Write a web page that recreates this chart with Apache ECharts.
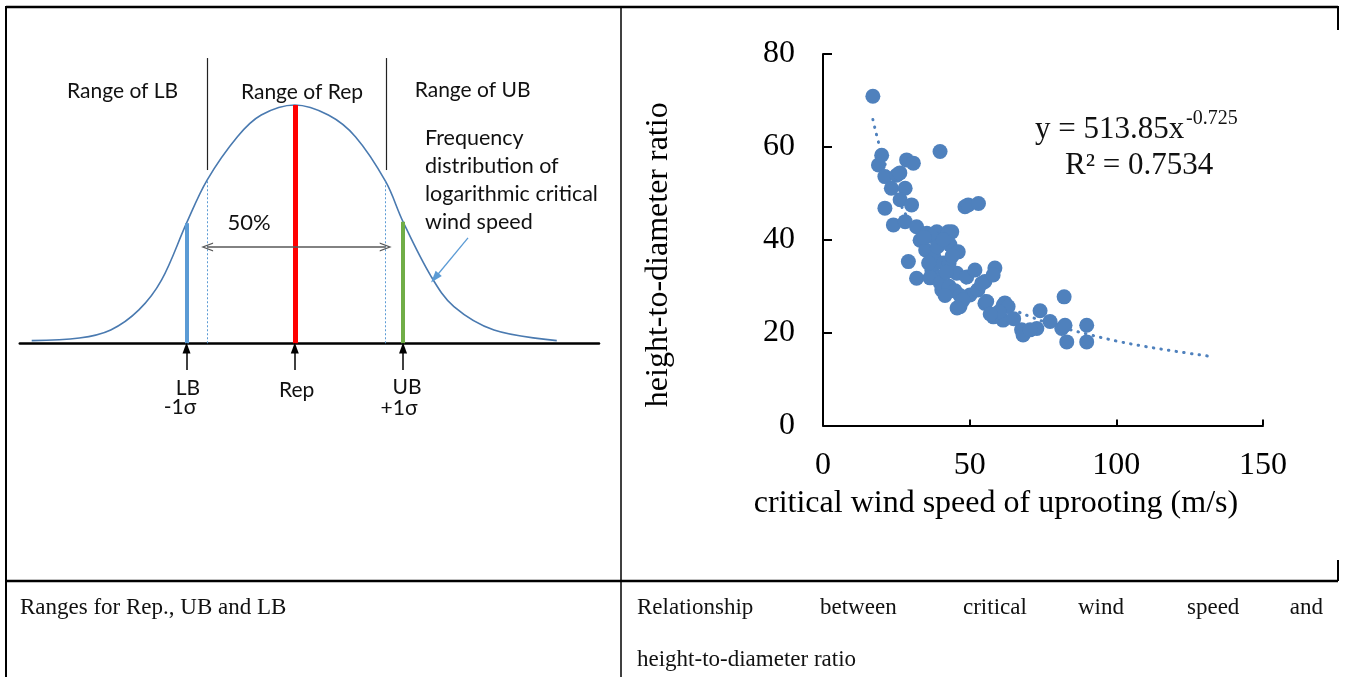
<!DOCTYPE html>
<html>
<head>
<meta charset="utf-8">
<script src="https://cdn.jsdelivr.net/npm/echarts@6/dist/echarts.min.js"></script>
<style>
html, body { margin: 0; padding: 0; background: #fff; }
#main { width: 1345px; height: 677px; }
</style>
</head>
<body>
<div id="main"></div>
<script>
// left panel: frequency curve (x in sigma from Rep, y relative to peak)
var curveX = [-2.43, -1.99, -1.70, -1.44, -1.23, -1.0, -0.81, -0.53, -0.31, 0, 0.31, 0.56, 0.84, 1.0, 1.26, 1.47, 1.84, 2.42];
var curveY = [0.011, 0.022, 0.056, 0.14, 0.266, 0.504, 0.685, 0.867, 0.958, 1.0, 0.958, 0.867, 0.678, 0.51, 0.28, 0.154, 0.056, 0.011];
var markerNames = ['LB', 'Rep', 'UB'];
var markerX = [-1, 0, 1];
var markerY = [0.504, 1.0, 0.51];
var quartileX = [-0.81, 0.84];
var quartileY = [0.685, 0.678];

// right panel: critical wind speed (m/s) vs height-to-diameter ratio
var speed = [17.0, 20.0, 18.9, 28.5, 30.8, 39.9, 21.1, 25.1, 26.2, 23.3, 28.0, 21.1, 26.3, 30.2, 24.0, 28.0, 31.9, 35.4, 38.8, 42.7,
  29.1, 31.9, 33.1, 37.1, 43.9, 37.5, 43.3, 46.1, 37.1, 39.9, 45.6, 49.0, 40.5, 46.7, 50.1, 52.8, 55.2, 55.2, 51.8, 48.4,
  49.5, 53.0, 58.6, 58.0, 54.1, 55.8, 62.0, 61.4, 63.1, 58.1, 61.4, 67.7, 68.2, 72.9, 77.4, 81.4, 83.1, 89.9, 89.9, 82.2,
  74.0, 82.5, 70.6, 35.0, 38.0, 41.0, 43.0, 36.5, 40.0, 43.0, 45.0, 46.7, 41.6, 47.7, 45.7, 36.0, 39.0, 41.0, 44.0, 42.0,
  34.5, 60.0, 65.0, 57.0];
var ratio = [70.9, 58.2, 56.1, 57.2, 56.5, 59.0, 53.6, 53.9, 54.4, 51.1, 51.1, 46.8, 48.6, 47.5, 43.2, 43.9, 42.8, 41.4, 41.7, 41.7,
  35.3, 31.7, 39.9, 40.7, 41.7, 37.1, 38.9, 37.4, 33.5, 32.0, 32.8, 32.0, 29.2, 25.6, 28.1, 29.2, 31.0, 26.3, 33.5, 47.1,
  47.5, 47.8, 33.9, 32.4, 30.6, 26.7, 26.4, 25.9, 25.6, 23.4, 22.7, 20.6, 19.5, 20.9, 22.4, 20.9, 18.0, 21.6, 18.0, 27.7,
  24.7, 21.6, 20.6, 37.8, 36.0, 35.0, 35.0, 31.8, 30.7, 30.0, 29.0, 28.0, 28.0, 27.0, 25.3, 35.0, 38.5, 40.0, 36.5, 33.0,
  40.5, 24.5, 23.0, 24.0];
// power trendline as drawn (y = 513.85x^-0.725)
var trendX = [17, 20, 25, 30, 40, 50, 60, 70, 80, 90, 100, 110, 120, 133];
var trendY = [65.9, 58.6, 49.8, 43.6, 35.4, 30.1, 26.4, 23.6, 21.4, 19.7, 18.2, 17.0, 16.0, 14.8];

function zip(a, b) {
  return a.map(function (v, i) { return [v, b[i]]; });
}

var chevron = 'path://M0,10 L5,0 L10,10 L8.6,10 L5,2.8 L1.4,10 Z';
var serif = 'Liberation Serif';
var sans = 'Lato';

var markLines = [];
markerX.forEach(function (x, i) {
  var colors = ['#5B9BD5', '#FF0000', '#70AD47'];
  markLines.push([
    { coord: [x, 0], lineStyle: { color: colors[i], width: i === 1 ? 5 : 4, type: 'solid' } },
    { coord: [x, markerY[i]] }
  ]);
  // small arrow under the axis
  markLines.push([
    { coord: [x, -0.112], symbol: 'none', lineStyle: { color: '#000', width: 1.5, type: 'solid' } },
    { coord: [x, -0.02], symbol: 'triangle', symbolSize: [8, 11] }
  ]);
});
quartileX.forEach(function (x, i) {
  markLines.push([
    { coord: [x, 0], lineStyle: { color: '#5B9BD5', width: 1, type: [2, 2] } },
    { coord: [x, quartileY[i]] }
  ]);
  markLines.push([
    { coord: [x + 0.005, 0.727], lineStyle: { color: '#222', width: 1.2, type: 'solid' } },
    { coord: [x + 0.005, 1.197] }
  ]);
});
markLines.push([
  { coord: [quartileX[0], 0.404], symbol: chevron, symbolSize: [9, 12], lineStyle: { color: '#595959', width: 1.5, type: 'solid' } },
  { coord: [quartileX[1], 0.404], symbol: chevron, symbolSize: [9, 12] }
]);
markLines.push([
  { coord: [1.60, 0.442], symbol: 'none', lineStyle: { color: '#5B9BD5', width: 1.3, type: 'solid' } },
  { coord: [1.294, 0.274], symbol: 'triangle', symbolSize: [8, 12] }
]);

function txt(x, y, s, size, family, align, extra) {
  var st = { text: s, fontSize: size, fontFamily: family, fill: '#111', align: align || 'center', verticalAlign: 'middle' };
  if (extra) for (var k in extra) st[k] = extra[k];
  return { type: 'text', x: x, y: y, style: st, z: 10 };
}
function seg(x1, y1, x2, y2, w) {
  return { type: 'line', shape: { x1: x1, y1: y1, x2: x2, y2: y2 }, style: { stroke: '#000', lineWidth: w }, z: 10 };
}

var chart = echarts.init(document.getElementById('main'), null, { renderer: 'canvas' });

chart.setOption({
  animation: false,
  backgroundColor: '#fff',
  grid: [
    { left: 19.8, width: 579.2, top: 33.5, height: 428.9 },
    { left: 823, width: 440, top: 54, height: 371.5 }
  ],
  xAxis: [
    {
      gridIndex: 0, type: 'value', min: -2.54, max: 2.81,
      axisLine: { onZero: true, lineStyle: { color: '#000', width: 2.5 } },
      axisTick: { show: false }, axisLabel: { show: false }, splitLine: { show: false }
    },
    {
      gridIndex: 1, type: 'value', min: 0, max: 150, interval: 50,
      axisLine: { lineStyle: { color: '#000', width: 2 } },
      axisTick: { inside: true, length: 6, lineStyle: { color: '#000', width: 2 } },
      axisLabel: { color: '#000', fontFamily: serif, fontSize: 32, margin: 24 },
      splitLine: { show: false },
      name: 'critical wind speed of uprooting (m/s)', nameLocation: 'middle', nameGap: 62,
      nameTextStyle: { color: '#000', fontFamily: serif, fontSize: 32, padding: [0, 94, 0, 0] }
    }
  ],
  yAxis: [
    { gridIndex: 0, type: 'value', min: -0.5, max: 1.3, show: false },
    {
      gridIndex: 1, type: 'value', min: 0, max: 80, interval: 20,
      axisLine: { show: true, lineStyle: { color: '#000', width: 2 } },
      axisTick: { show: true, inside: true, length: 9, lineStyle: { color: '#000', width: 2 } },
      axisLabel: { color: '#000', fontFamily: serif, fontSize: 32, margin: 28 },
      splitLine: { show: false },
      name: 'height-to-diameter ratio', nameLocation: 'middle', nameGap: 148,
      nameTextStyle: { color: '#000', fontFamily: serif, fontSize: 32, padding: [0, 30, 0, 0] }
    }
  ],
  series: [
    {
      type: 'line', xAxisIndex: 0, yAxisIndex: 0,
      data: zip(curveX, curveY), smooth: 0.35, showSymbol: false, silent: true,
      lineStyle: { color: '#4A7AB0', width: 1.6 },
      markLine: { silent: true, symbol: 'none', label: { show: false }, data: markLines },
      z: 3
    },
    {
      type: 'line', xAxisIndex: 1, yAxisIndex: 1,
      data: zip(trendX, trendY), smooth: 0.4, showSymbol: false, silent: true,
      lineStyle: { color: '#4F81BD', width: 3, type: [0.5, 7.2], cap: 'round' },
      z: 2
    },
    {
      type: 'scatter', xAxisIndex: 1, yAxisIndex: 1,
      data: zip(speed, ratio), symbolSize: 15,
      itemStyle: { color: '#4F81BD', opacity: 1 },
      z: 3
    }
  ],
  graphic: [
    // table rules
    seg(6, 7, 1338, 7, 2.5),
    seg(6, 6, 6, 677, 2),
    seg(621, 6, 621, 677, 1.5),
    seg(6, 581, 1338, 581, 2.5),
    seg(1338, 6, 1338, 30, 2),
    seg(1338, 560, 1338, 581, 2),
    // left panel texts
    txt(122.6, 91, 'Range of LB', 21, sans),
    txt(302, 92, 'Range of Rep', 21, sans),
    txt(472.6, 90, 'Range of UB', 21, sans),
    txt(425, 180, 'Frequency\ndistribution of\nlogarithmic critical\nwind speed', 21.5, sans, 'left', { lineHeight: 28 }),
    txt(249, 223, '50%', 22, sans),
    txt(188, 388, markerNames[0], 21, sans),
    txt(180, 407, '-1σ', 21, sans),
    txt(296.6, 390, markerNames[1], 21, sans),
    txt(407, 387, markerNames[2], 21, sans),
    txt(399, 408, '+1σ', 21, sans),
    // regression annotation
    txt(1035, 130, 'y = 513.85x', 31, serif, 'left'),
    txt(1186, 119, '-0.725', 20, serif, 'left'),
    txt(1065, 166, 'R² = 0.7534', 31, serif, 'left'),
    // captions
    txt(20, 608, 'Ranges for Rep., UB and LB', 23, serif, 'left'),
    txt(637, 608, 'Relationship', 23, serif, 'left'),
    txt(820, 608, 'between', 23, serif, 'left'),
    txt(963, 608, 'critical', 23, serif, 'left'),
    txt(1078, 608, 'wind', 23, serif, 'left'),
    txt(1187, 608, 'speed', 23, serif, 'left'),
    txt(1323, 608, 'and', 23, serif, 'right'),
    txt(637, 660, 'height-to-diameter ratio', 23, serif, 'left')
  ]
});
</script>
</body>
</html>
